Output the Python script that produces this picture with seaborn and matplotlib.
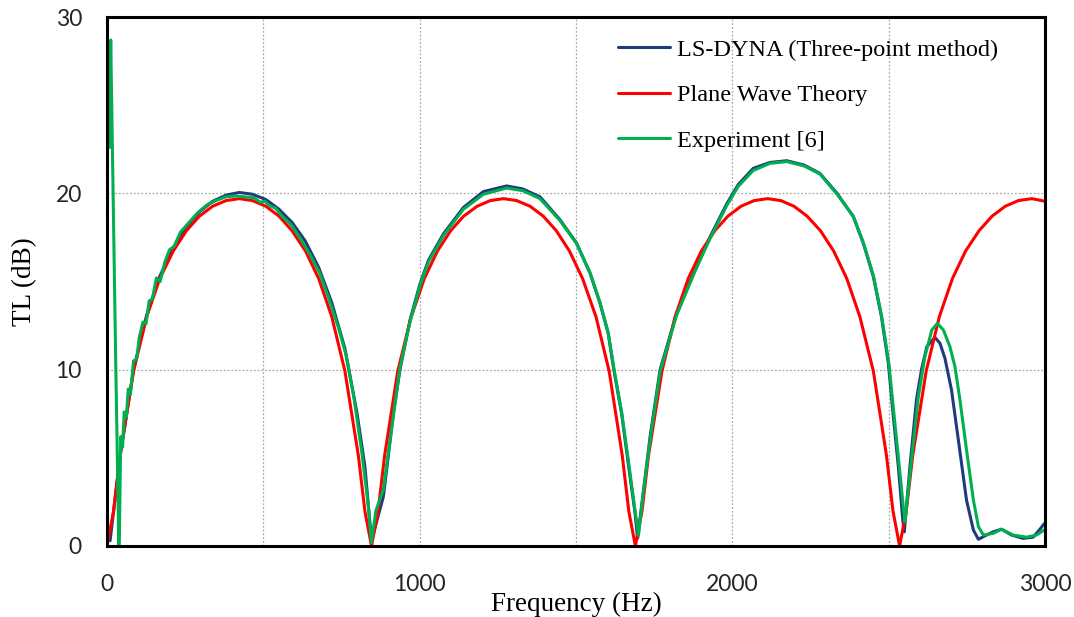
import pandas as pd
import seaborn as sns
import matplotlib.pyplot as plt

# LS-DYNA (three-point method)
freq_dyna = [10, 42, 85, 127, 169, 212, 254, 296, 338, 381, 423, 465, 508, 550, 592, 634, 677, 719, 761, 800, 825, 846,
             884, 916, 937, 969, 1000, 1028, 1076, 1140, 1204, 1278, 1330, 1385, 1449, 1502, 1545, 1577, 1603, 1621, 1646,
             1667, 1689, 1697,
             1715, 1737, 1769, 1822, 1881, 1929, 1982, 2019, 2067, 2120, 2174, 2230, 2280, 2335, 2387, 2419, 2451, 2477,
             2499, 2515, 2531, 2545, 2550, 2568, 2589, 2605, 2622, 2648, 2664, 2680, 2701, 2723, 2749, 2771, 2787, 2813,
             2835, 2861, 2893, 2930, 2962, 2984, 2997]
tl_dyna = [0.3, 5.1, 10.0, 13.1, 15.3, 16.9, 18.1, 18.95, 19.55, 19.9, 20.05, 19.95, 19.65, 19.1, 18.35, 17.3, 15.8, 13.8, 11.2, 7.5, 4.5, 0.3,
           2.8, 7.5, 10.0, 12.8, 14.8, 16.2, 17.7, 19.2, 20.1, 20.42, 20.25, 19.8, 18.5, 17.17, 15.47, 13.76, 12.06, 10.0, 7.5,
           4.7, 1.85, 0.45,
           3.0, 6.2, 10.0, 13.2, 15.65, 17.54, 19.4, 20.5, 21.42, 21.75, 21.85, 21.6, 21.13, 20.0, 18.68, 17.17, 15.28, 13.0,
           10.36, 7.33, 4.5, 1.5, 0.8, 4.5, 8.3, 10.0, 11.3, 11.83, 11.5, 10.64, 8.85, 6.0, 2.6, 0.9, 0.38, 0.62,
           0.81, 0.95, 0.62, 0.43, 0.5, 0.95, 1.26]

# Plane wave theory
freq_theory = [0, 21, 42, 85, 127, 169, 212, 254, 296, 338, 381, 423, 465, 508, 550, 592, 635, 677, 719, 761, 804, 825, 846,
               867, 888, 930, 973, 1015, 1057, 1099, 1141, 1184, 1226, 1268, 1310, 1353, 1395, 1437, 1479, 1521, 1564, 1606, 1648, 1669, 1690,
               1711, 1732, 1775, 1817, 1859, 1901, 1944, 1986, 2028, 2070, 2113, 2155, 2197, 2239, 2282, 2324, 2366, 2408, 2451, 2493, 2514, 2535,
               2556, 2577, 2620, 2662, 2704, 2746, 2789, 2831, 2873, 2915, 2958, 3000]
tl_theory = [0, 1.96, 5.13, 9.92, 13.0, 15.17, 16.73, 17.88, 18.71, 19.27, 19.59, 19.70, 19.59, 19.27, 18.71, 17.88, 16.73, 15.17, 13.0, 9.92, 5.13, 1.96, 0,
             1.96, 5.13, 9.92, 13.0, 15.17, 16.73, 17.88, 18.71, 19.27, 19.59, 19.70, 19.59, 19.27, 18.71, 17.88, 16.73, 15.17, 13.0, 9.92, 5.13, 1.96, 0,
             1.96, 5.13, 9.92, 13.0, 15.17, 16.73, 17.88, 18.71, 19.27, 19.59, 19.70, 19.59, 19.27, 18.71, 17.88, 16.73, 15.17, 13.0, 9.92, 5.13, 1.96, 0,
             1.96, 5.13, 9.92, 13.0, 15.17, 16.73, 17.88, 18.71, 19.27, 19.59, 19.70, 19.55]

# Experiment [6]
freq_exp = [8, 12, 28, 38, 40, 44, 50, 55, 62, 68, 75, 85, 95, 103, 115, 125, 135, 145, 158, 170, 185, 200, 215, 235, 260,
            290, 320, 350, 380, 410, 440, 470, 490, 505, 520, 540, 560, 590, 620, 650, 680, 710, 740, 765, 790, 815, 835, 846,
            860, 884, 916, 937, 969, 1000, 1028, 1076, 1140, 1204, 1278, 1330, 1385, 1449, 1502, 1545, 1577, 1603, 1621, 1646,
            1667, 1689, 1700,
            1715, 1737, 1769, 1822, 1881, 1929, 1982, 2019, 2067, 2120, 2174, 2230, 2280, 2335, 2387, 2419, 2451, 2478, 2501,
            2518, 2534, 2548, 2552, 2573, 2595, 2616, 2638, 2656, 2675, 2696, 2712, 2728, 2749, 2771, 2787, 2803, 2835, 2861,
            2898, 2941, 2973, 2997]
tl_exp = [22.6, 28.7, 10.4, 0.0, 1.0, 6.2, 5.6, 7.6, 7.3, 8.9, 8.6, 10.5, 10.6, 11.8, 12.7, 12.6, 13.9, 14.0, 15.2, 15.0, 16.1, 16.8, 17.0, 17.8, 18.3,
          18.9, 19.35, 19.6, 19.8, 19.85, 19.8, 19.75, 19.5, 19.55, 19.3, 19.15, 18.7, 18.2, 17.4, 16.5, 15.5, 14.0, 12.4, 10.8, 8.4, 5.3, 2.4, 0.2,
          2.0, 3.2, 7.4, 10.1, 12.7, 14.7, 16.1, 17.6, 19.1, 19.95, 20.3, 20.15, 19.7, 18.45, 17.15, 15.5, 13.8, 12.1, 10.1, 7.6,
          4.9, 2.0, 0.6,
          3.0, 6.0, 9.9, 13.1, 15.6, 17.45, 19.3, 20.4, 21.3, 21.7, 21.8, 21.55, 21.1, 19.95, 18.7, 17.2, 15.35, 13.0, 10.3,
          7.3, 4.5, 2.0, 1.38, 4.9, 8.47, 10.74, 12.25, 12.63, 12.25, 11.3, 10.17, 8.28, 5.45, 2.6, 1.1, 0.62, 0.72, 0.95,
          0.62, 0.5, 0.62, 0.9]

sns.set_style('white')
serif = ['Liberation Serif', 'DejaVu Serif']

fig = plt.figure(figsize=(10.74, 6.17), dpi=100)
ax = fig.add_axes([0.0996, 0.1151, 0.8734, 0.8573])

sns.lineplot(x=freq_dyna, y=tl_dyna, color='#1F3A7D', linewidth=2.2, sort=False, estimator=None,
             label='LS-DYNA (Three-point method)', ax=ax)
sns.lineplot(x=freq_theory, y=tl_theory, color='#FF0000', linewidth=2.2, sort=False, estimator=None,
             label='Plane Wave Theory', ax=ax)
sns.lineplot(x=freq_exp, y=tl_exp, color='#00B050', linewidth=2.2, sort=False, estimator=None,
             label='Experiment [6]', ax=ax)

ax.set_xlim(0, 3000)
ax.set_ylim(0, 30)
ax.set_xticks(range(0, 3001, 500))
ax.set_xticklabels(['0', '', '1000', '', '2000', '', '3000'])
ax.set_yticks([0, 10, 20, 30])
ax.tick_params(length=0, labelsize=16.5, colors='#262626')
ax.tick_params(axis='x', pad=20)
ax.tick_params(axis='y', pad=18)
for lab in ax.get_xticklabels() + ax.get_yticklabels():
    lab.set_family(['Lato', 'DejaVu Sans'])

ax.grid(True, color='#aaaaaa', linestyle=(0, (1.5, 1.5)), linewidth=0.9)
for sp in ax.spines.values():
    sp.set_color('black')
    sp.set_linewidth(2.2)

ax.set_xlabel('Frequency (Hz)', family=serif, fontsize=19.5, color='black', labelpad=-2)
ax.set_ylabel('TL (dB)', family=serif, fontsize=19.5, color='black', labelpad=13)

leg = ax.legend(loc='upper left', bbox_to_anchor=(0.545, 0.959), frameon=False, borderaxespad=0, borderpad=0,
                prop={'family': serif, 'size': 17.5}, handlelength=2.15, handletextpad=0.25, labelspacing=0.97)
for t in leg.get_texts():
    t.set_color('black')

fig.savefig('out.png', dpi=100)
